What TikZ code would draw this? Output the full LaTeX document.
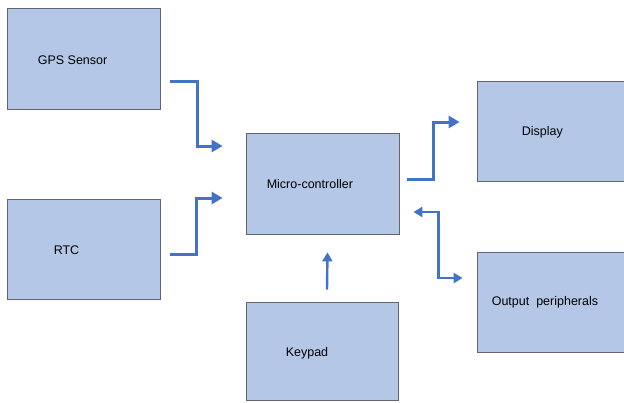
\documentclass[tikz,border=0pt]{standalone}
\usepackage{fontspec}
\setmainfont{Liberation Sans}
\usetikzlibrary{arrows.meta,calc}
\definecolor{boxfill}{HTML}{B4C7E7}
\definecolor{boxline}{HTML}{5F6670}
\definecolor{arrowblue}{HTML}{4472C4}
\tikzset{
  block/.style={draw=boxline, line width=0.8pt, fill=boxfill, inner sep=0pt},
  txt/.style={font=\fontsize{12.5}{14}\selectfont, inner sep=0pt, anchor=west},
  flow/.style={draw=arrowblue, line width=3pt,
    -{Triangle[length=11pt,width=12pt]}},
  thinflow/.style={draw=arrowblue, line width=2.4pt},
}
\begin{document}
\begin{tikzpicture}[x=1pt,y=-1pt]
  \clip (0,0) rectangle (624,402);
  \fill[white] (0,0) rectangle (624,402);

  % blocks
  \node[block, minimum width=153pt, minimum height=101pt] (gps) at (83.5,58.5) {};
  \node[block, minimum width=153pt, minimum height=100pt] (rtc) at (83.5,249) {};
  \node[block, minimum width=153pt, minimum height=101pt] (mc) at (322.5,183.5) {};
  \node[block, minimum width=160pt, minimum height=100pt] (disp) at (557,131) {};
  \node[block, minimum width=160pt, minimum height=100pt] (out) at (557,302) {};
  \node[block, minimum width=152pt, minimum height=98pt] (kp) at (322,351) {};

  % block captions
  \node[txt] (gpsT) at ($(gps.west)+(31,1.5)$) {GPS Sensor};
  \node[txt] (rtcT) at ($(rtc.west)+(47,1)$) {RTC};
  \node[txt] (mcT) at ($(mc.west)+(21,0.5)$) {Micro-controller};
  \node[txt] (dispT) at ($(disp.west)+(45,1)$) {Display};
  \node[txt] (outT) at ($(out.west)+(15,0)$) {Output~~peripherals};
  \node[txt] (kpT) at ($(kp.west)+(40,2)$) {Keypad};

  % connectors
  \draw[flow] ($(gps.east)+(10,22.5)$) -- ++(27,0) |- ($(mc.west)+(-23,-37.5)$);
  \draw[flow] ($(rtc.east)+(10,5)$) -- ++(26,0) |- ($(mc.west)+(-23,14.5)$);
  \draw[flow] ($(mc.east)+(8,-4.5)$) -- ++(26,0) |- ($(disp.west)+(-17,-9)$);
  \draw[thinflow, {Triangle[length=9pt,width=10pt]}-{Triangle[length=9pt,width=10pt]}]
    ($(mc.east)+(14,28.5)$) -- ++(25,0) |- ($(out.west)+(-14,-24)$);
  \draw[thinflow, -{Triangle[length=9pt,width=10pt]}]
    ($(kp.north)+(5,-12)$) -- ($(mc.south)+(5,18)$);
\end{tikzpicture}
\end{document}
